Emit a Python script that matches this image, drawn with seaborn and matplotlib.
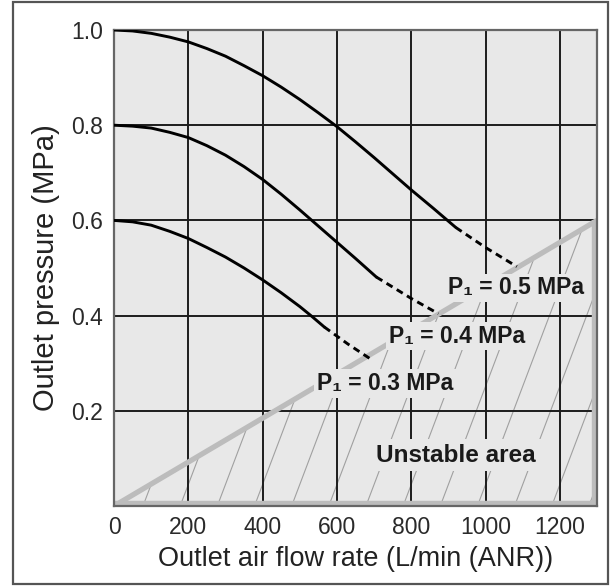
import numpy as np
import pandas as pd
import matplotlib
matplotlib.use("Agg")
import matplotlib.pyplot as plt
from matplotlib.patches import Polygon, Rectangle
import seaborn as sns

# ---- data ----
flow_05 = [0, 50, 100, 150, 200, 250, 300, 350, 400, 450, 500, 550, 600, 650,
           700, 750, 800, 860, 920]
p_05 = [1.0, 0.998, 0.993, 0.985, 0.975, 0.961, 0.945, 0.925, 0.904, 0.880,
        0.854, 0.826, 0.797, 0.765, 0.732, 0.698, 0.664, 0.625, 0.585]
flow_05_dash = [920, 1000, 1084]
p_05_dash = [0.585, 0.543, 0.503]

flow_04 = [0, 50, 100, 150, 200, 250, 300, 350, 400, 450, 500, 550, 600, 650, 706]
p_04 = [0.8, 0.798, 0.794, 0.785, 0.774, 0.757, 0.737, 0.713, 0.686, 0.655,
        0.622, 0.588, 0.554, 0.520, 0.481]
flow_04_dash = [706, 800, 873]
p_04_dash = [0.481, 0.436, 0.404]

flow_03 = [0, 50, 100, 150, 200, 250, 300, 350, 400, 450, 500, 533, 566]
p_03 = [0.6, 0.597, 0.590, 0.577, 0.562, 0.543, 0.523, 0.500, 0.475, 0.448,
        0.419, 0.398, 0.376]
flow_03_dash = [566, 630, 694]
p_03_dash = [0.376, 0.340, 0.307]

boundary_flow = [0, 1300]
boundary_p = [0.0, 0.6]

labels = ["P\u2081 = 0.5 MPa", "P\u2081 = 0.4 MPa", "P\u2081 = 0.3 MPa"]
label_x = [1083, 922, 730]
label_y = [0.458, 0.357, 0.257]

x_ticks = [0, 200, 400, 600, 800, 1000, 1200]
y_ticks = [0.2, 0.4, 0.6, 0.8, 1.0]
y_tick_labels = ["0.2", "0.4", "0.6", "0.8", "1.0"]

sns.set_style("white")
plt.rcParams["font.family"] = ["Liberation Sans", "DejaVu Sans"]

BG = "#e8e8e8"
fig = plt.figure(figsize=(6.13, 5.86), dpi=100)
ax = fig.add_axes([0.186, 0.1365, 0.788, 0.8123])
ax.set_facecolor(BG)

# unstable area: hatch + outline
poly_xy = [(boundary_flow[0], boundary_p[0]), (boundary_flow[1], boundary_p[1]),
           (boundary_flow[1], 0.0)]
clip = Polygon(poly_xy, closed=True, facecolor="none", edgecolor="none")
ax.add_patch(clip)
for x0 in np.arange(-1422, 1400, 100):
    ln, = ax.plot([x0, x0 + 800], [0, 1.65], color="#a0a0a0", lw=0.8, zorder=0.3)
    ln.set_clip_path(clip)
ax.plot([boundary_flow[1], boundary_flow[1], boundary_flow[0]],
        [boundary_p[1], 0, 0], color="#bcbcbc", lw=7.5, zorder=1.2,
        solid_capstyle="butt")
sns.lineplot(x=boundary_flow, y=boundary_p, ax=ax, color="#bcbcbc", lw=3.8,
             zorder=1.3, solid_capstyle="butt")

# curves
for fx, py in [(flow_05, p_05), (flow_04, p_04), (flow_03, p_03)]:
    df = pd.DataFrame({"flow": fx, "p": py})
    sns.lineplot(data=df, x="flow", y="p", ax=ax, color="black", lw=2.1,
                 sort=False, zorder=3)
for fx, py in [(flow_05_dash, p_05_dash), (flow_04_dash, p_04_dash),
               (flow_03_dash, p_03_dash)]:
    df = pd.DataFrame({"flow": fx, "p": py})
    sns.lineplot(data=df, x="flow", y="p", ax=ax, color="black", lw=2.1,
                 sort=False, zorder=3, linestyle=(0, (2.4, 1.7)))

# labels
for t, lx, ly in zip(labels, label_x, label_y):
    ax.text(lx, ly, t, ha="center", va="center", fontsize=16.5,
            fontweight="bold", color="#1a1a1a", zorder=4,
            bbox=dict(boxstyle="square,pad=0.12", facecolor=BG, edgecolor="none"))
ax.text(920, 0.107, "Unstable area", ha="center", va="center", fontsize=17.5,
        fontweight="bold", color="#1a1a1a", zorder=4,
        bbox=dict(boxstyle="square,pad=0.2", facecolor=BG, edgecolor="none"))

ax.set_xlim(0, 1300)
ax.set_ylim(0, 1.0)
ax.set_xticks(x_ticks)
ax.set_yticks(y_ticks)
ax.set_yticklabels(y_tick_labels)
ax.grid(True, color="#1c1c1c", lw=1.4)
ax.set_axisbelow(True)
ax.tick_params(axis="both", length=0, labelsize=16.5, colors="#2a2a2a")
ax.tick_params(axis="x", pad=7)
ax.tick_params(axis="y", pad=8)
for s in ax.spines.values():
    s.set_visible(True)
    s.set_color("#666666")
    s.set_linewidth(1.6)
ax.set_xlabel("Outlet air flow rate (L/min (ANR))", fontsize=19.5, color="#222222",
              labelpad=5)
ax.set_ylabel("Outlet pressure (MPa)", fontsize=21, color="#222222", labelpad=8)

fig.patches.append(Rectangle((13 / 613, 2 / 586), 595 / 613, 582 / 586,
                             transform=fig.transFigure, fill=False,
                             edgecolor="#555555", lw=1.6))

fig.savefig("out.png", dpi=100, facecolor="white")
